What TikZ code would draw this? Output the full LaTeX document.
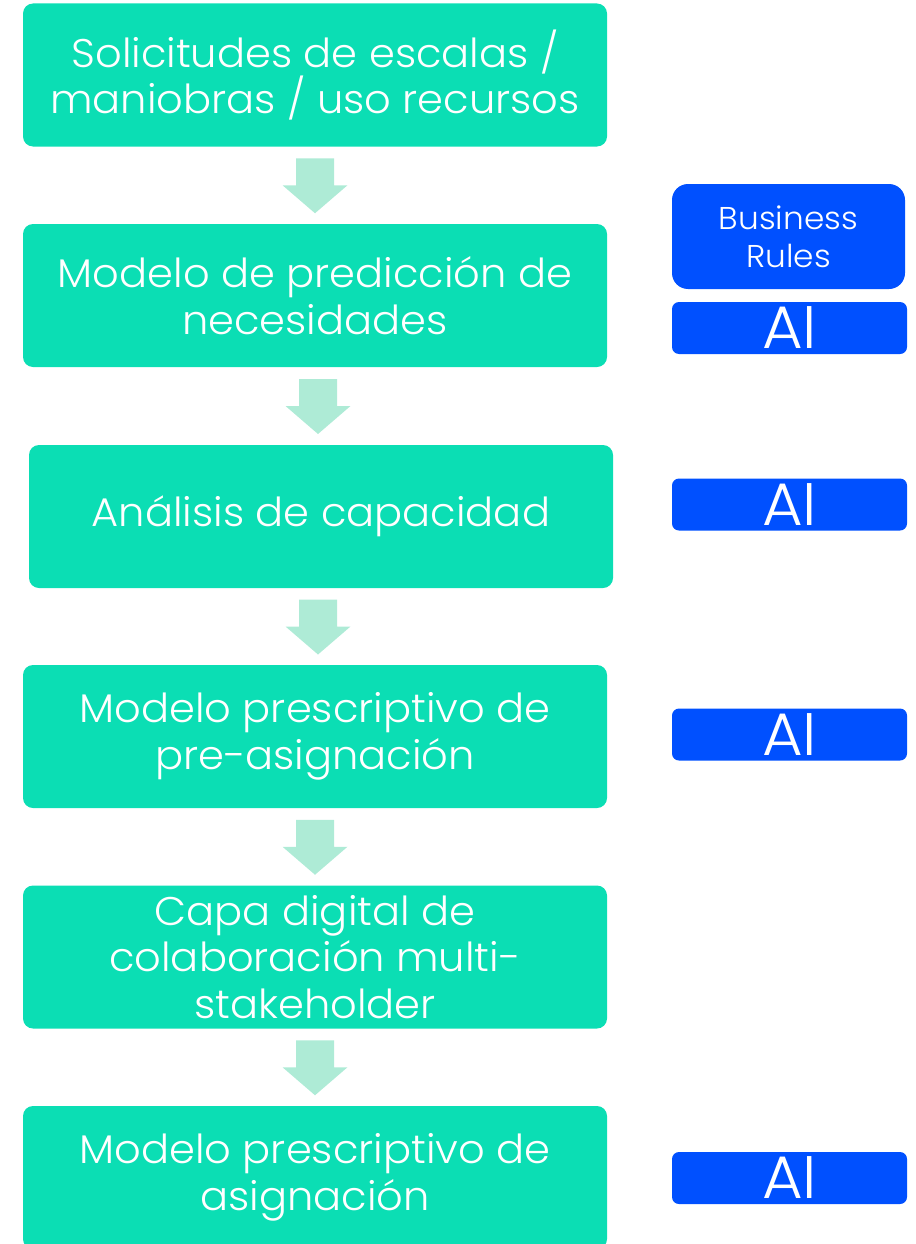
\documentclass[tikz,border=0pt]{standalone}
\usepackage{fontspec}
\setmainfont{Poppins}[UprightFont={* Light}, FakeStretch=1.04]
\usetikzlibrary{calc}
\definecolor{boxgreen}{HTML}{0BDEB4}
\definecolor{arrowgreen}{HTML}{AEEBD6}
\definecolor{aiblue}{HTML}{0050FF}
\tikzset{
  stage/.style={fill=boxgreen, rounded corners=10pt, minimum width=584pt, minimum height=143pt,
    text=white, align=center, font=\fontsize{40}{46.5}\selectfont, inner sep=0pt},
  aibox/.style={fill=aiblue, rounded corners=7pt, minimum width=235pt, minimum height=52pt,
    text=white, align=center, font=\fontsize{60}{60}\selectfont, inner sep=0pt},
  rulebox/.style={fill=aiblue, rounded corners=16pt, minimum width=233pt, minimum height=105pt,
    text=white, align=center, font=\fontsize{31.5}{38}\selectfont, inner sep=0pt},
  flowarrow/.style={fill=arrowgreen}
}
\newcommand\blockarrow[2]{%
  \path ($(#1.south)!0.5!(#2.north)$) coordinate (m#1);
  \fill[flowarrow] ($(m#1)+(-19,-27)$) -- ($(m#1)+(19,-27)$) -- ($(m#1)+(19,0)$)
    -- ($(m#1)+(32.5,0)$) -- ($(m#1)+(0,28)$) -- ($(m#1)+(-32.5,0)$) -- ($(m#1)+(-19,0)$) -- cycle;
}
\begin{document}
\begin{tikzpicture}[x=1pt,y=-1pt]
\useasboundingbox (0,0) rectangle (915,1244);
\clip (0,0) rectangle (915,1244);
\node[stage] (s1) at (315,75) {Solicitudes de escalas /\\maniobras / uso recursos};
\node[stage] (s2) at (315,295.5) {Modelo de predicción de\\necesidades};
\node[stage] (s3) at (321,516.5) {Análisis de capacidad};
\node[stage] (s4) at (315,736.5) {Modelo prescriptivo de\\pre-asignación};
\node[stage] (s5) at (315,957) {Capa digital de\\colaboración multi-\\stakeholder};
\node[stage] (s6) at (315,1177.5) {Modelo prescriptivo de\\asignación};
\blockarrow{s1}{s2}
\blockarrow{s2}{s3}
\blockarrow{s3}{s4}
\blockarrow{s4}{s5}
\blockarrow{s5}{s6}
\node[rulebox] (br) at (788.5,236.5) {Business\\Rules};
\node[aibox] (a1) at (789.5,328) {AI};
\node[aibox] (a2) at (789.5,504.5) {AI};
\node[aibox] (a3) at (789.5,734.5) {AI};
\node[aibox] (a4) at (789.5,1178) {AI};
\end{tikzpicture}
\end{document}
